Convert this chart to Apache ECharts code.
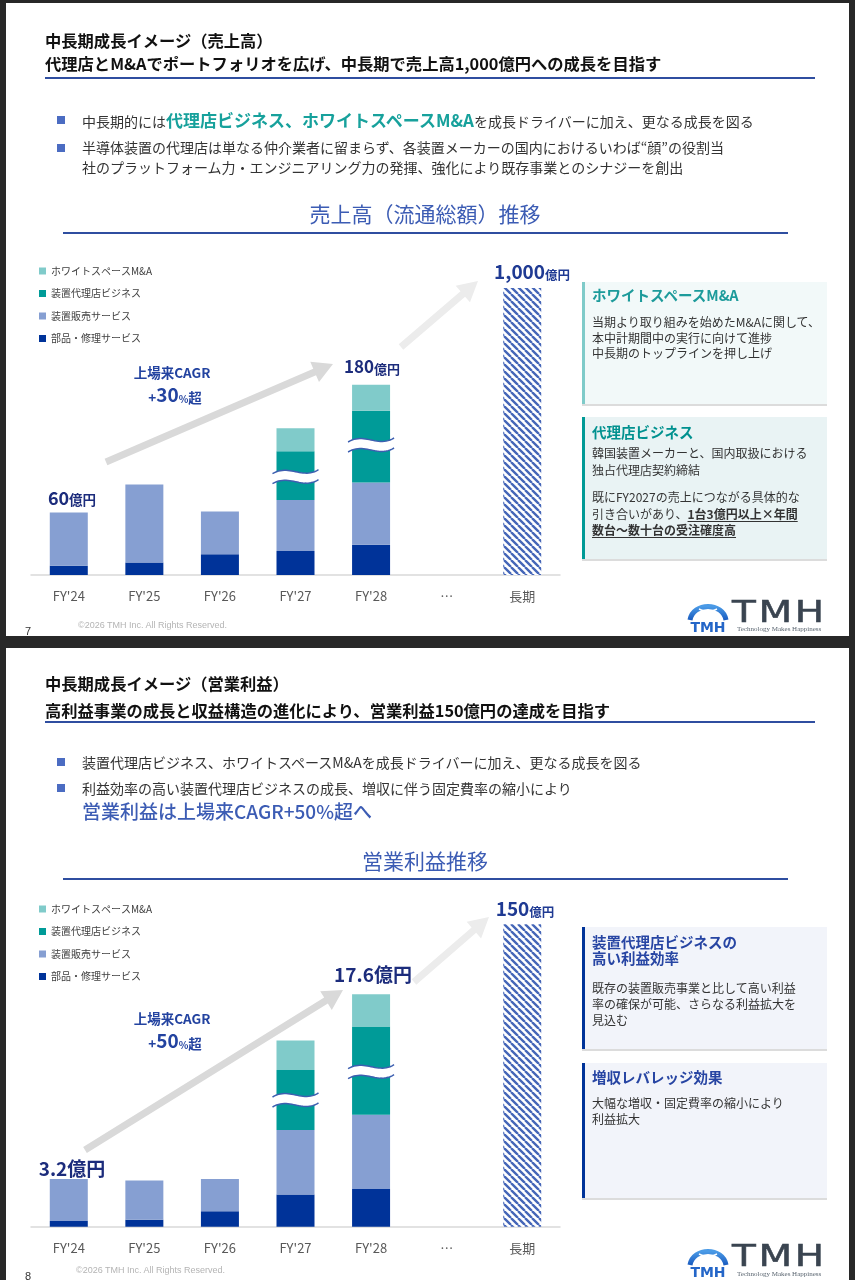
<!DOCTYPE html>
<html><head><meta charset="utf-8">
<script src="https://cdn.jsdelivr.net/npm/echarts@6/dist/echarts.min.js"></script>
<style>
html,body{margin:0;padding:0;}
body{width:855px;height:1280px;background:#282828;position:relative;overflow:hidden;font-family:"Noto Sans CJK JP","Noto Sans",sans-serif;}
.slide{position:absolute;left:6px;width:843px;background:#fff;z-index:0;}
#s1{top:3px;height:633px;}
#s2{top:648px;height:632px;}
#chart{position:absolute;left:0;top:0;width:855px;height:1280px;z-index:1;}
.t{position:absolute;z-index:2;white-space:nowrap;color:#333;}
.ttl{font-size:16.3px;font-weight:bold;color:#111;line-height:20px;left:45px;}
.rule{position:absolute;z-index:2;background:#2f4ea0;}
.sq{position:absolute;z-index:2;width:8px;height:8px;background:#4b6cc2;left:57px;}
.bl{font-size:14px;left:82px;color:#333;}
.teal{color:#17a19c;font-weight:bold;font-size:17px;}
.sec{left:0;width:850px;text-align:center;font-size:21px;color:#3c5cb4;line-height:26px;}
.box{position:absolute;z-index:2;left:582px;width:242px;box-shadow:0 2px 0 #dcdcdc;}
.bt{left:592px;font-size:14.5px;font-weight:bold;line-height:16px;}
.bb{left:592px;font-size:12px;color:#333;}
.foot{font-family:"Liberation Sans",Arial,sans-serif;font-size:9px;color:#b4b4b4;line-height:12px;}
.pg{font-family:"Liberation Sans",Arial,sans-serif;font-size:11px;color:#333;line-height:12px;left:25px;}
.tmh{font-family:"DejaVu Sans","Liberation Sans",sans-serif;font-size:30px;color:#3a4450;line-height:30px;letter-spacing:2px;-webkit-text-stroke:0.5px #3a4450;transform:scaleX(1.3);transform-origin:0 0;}
.tag{font-family:"Liberation Serif",serif;font-size:7px;color:#5a6570;line-height:8px;}
u{text-decoration:underline;text-underline-offset:2px;}
</style></head><body>
<div class="slide" id="s1"></div>
<div class="slide" id="s2"></div>
<div id="chart"></div>

<!-- Slide 1 text -->
<div class="t ttl" style="top:30px;">中長期成長イメージ（売上高）</div>
<div class="t ttl" style="top:53px;">代理店とM&amp;Aでポートフォリオを広げ、中長期で売上高1,000億円への成長を目指す</div>
<div class="rule" style="left:45px;top:77px;width:770px;height:2px;"></div>
<div class="sq" style="top:116px;"></div>
<div class="t bl" style="top:108px;line-height:24px;">中長期的には<span class="teal">代理店ビジネス、ホワイトスペースM&amp;A</span>を成長ドライバーに加え、更なる成長を図る</div>
<div class="sq" style="top:144px;"></div>
<div class="t bl" style="top:138px;line-height:19.5px;">半導体装置の代理店は単なる仲介業者に留まらず、各装置メーカーの国内におけるいわば“顔”の役割当<br>社のプラットフォーム力・エンジニアリング力の発揮、強化により既存事業とのシナジーを創出</div>
<div class="t sec" style="top:200px;">売上高（流通総額）推移</div>
<div class="rule" style="left:63px;top:232px;width:725px;height:2px;"></div>

<div class="box" style="top:282px;height:122px;background:#f2f9f9;border-left:3px solid #7fcbc9;"></div>
<div class="t bt" style="top:287px;color:#1d9b9b;">ホワイトスペースM&amp;A</div>
<div class="t bb" style="top:314px;line-height:15.5px;">当期より取り組みを始めたM&amp;Aに関して、<br>本中計期間中の実行に向けて進捗<br>中長期のトップラインを押し上げ</div>
<div class="box" style="top:417px;height:142px;background:#e9f3f4;border-left:3px solid #009a96;"></div>
<div class="t bt" style="top:424px;color:#00918f;">代理店ビジネス</div>
<div class="t bb" style="top:444px;line-height:17px;">韓国装置メーカーと、国内取扱における<br>独占代理店契約締結</div>
<div class="t bb" style="top:489px;line-height:16.5px;">既にFY2027の売上につながる具体的な<br>引き合いがあり、<b><u>1台3億円以上×年間</u></b><br><b><u>数台〜数十台の受注確度高</u></b></div>

<div class="t foot" style="left:78px;top:619px;">©2026 TMH Inc. All Rights Reserved.</div>
<div class="t pg" style="top:625px;">7</div>
<svg class="t" style="left:687px;top:597px;" width="42" height="38" viewBox="0 0 42 38"><defs><linearGradient id="lg1" x1="0" x2="0" y1="0" y2="1"><stop offset="0" stop-color="#4a9ae6"/><stop offset="1" stop-color="#1a5cc0"/></linearGradient></defs><path d="M3 23 C6 5 36 5 39 23" stroke="url(#lg1)" stroke-width="5" fill="none"/><path d="M12 12 L21 16 L30 12" stroke="#ffffff" stroke-width="1.5" fill="none"/><text x="21" y="35" text-anchor="middle" font-family="DejaVu Sans" font-weight="bold" font-size="14" fill="#2466c8">TMH</text></svg>
<div class="t tmh" style="left:732px;top:597px;">TMH</div>
<div class="t tag" style="left:737px;top:625px;">Technology Makes Happiness</div>

<!-- Slide 2 text -->
<div class="t ttl" style="top:673px;">中長期成長イメージ（営業利益）</div>
<div class="t ttl" style="top:700px;">高利益事業の成長と収益構造の進化により、営業利益150億円の達成を目指す</div>
<div class="rule" style="left:45px;top:721px;width:770px;height:2px;"></div>
<div class="sq" style="top:758px;"></div>
<div class="t bl" style="top:751px;line-height:22px;">装置代理店ビジネス、ホワイトスペースM&amp;Aを成長ドライバーに加え、更なる成長を図る</div>
<div class="sq" style="top:784px;"></div>
<div class="t bl" style="top:777px;line-height:22px;">利益効率の高い装置代理店ビジネスの成長、増収に伴う固定費率の縮小により</div>
<div class="t" style="left:82px;top:799px;line-height:24px;font-size:19px;color:#3c5cb4;font-weight:500;">営業利益は上場来CAGR+50%超へ</div>
<div class="t sec" style="top:847px;">営業利益推移</div>
<div class="rule" style="left:63px;top:878px;width:725px;height:2px;"></div>

<div class="box" style="top:927px;height:122px;background:#f2f4fa;border-left:3px solid #003399;"></div>
<div class="t bt" style="top:934px;color:#2745a3;">装置代理店ビジネスの<br>高い利益効率</div>
<div class="t bb" style="top:980px;line-height:16px;">既存の装置販売事業と比して高い利益<br>率の確保が可能、さらなる利益拡大を<br>見込む</div>
<div class="box" style="top:1063px;height:135px;background:#f2f4fa;border-left:3px solid #003399;"></div>
<div class="t bt" style="top:1069px;color:#2745a3;">増収レバレッジ効果</div>
<div class="t bb" style="top:1095px;line-height:16px;">大幅な増収・固定費率の縮小により<br>利益拡大</div>

<div class="t foot" style="left:76px;top:1264px;">©2026 TMH Inc. All Rights Reserved.</div>
<div class="t pg" style="top:1270px;">8</div>
<svg class="t" style="left:687px;top:1242px;" width="42" height="38" viewBox="0 0 42 38"><defs><linearGradient id="lg2" x1="0" x2="0" y1="0" y2="1"><stop offset="0" stop-color="#4a9ae6"/><stop offset="1" stop-color="#1a5cc0"/></linearGradient></defs><path d="M3 23 C6 5 36 5 39 23" stroke="url(#lg2)" stroke-width="5" fill="none"/><path d="M12 12 L21 16 L30 12" stroke="#ffffff" stroke-width="1.5" fill="none"/><text x="21" y="35" text-anchor="middle" font-family="DejaVu Sans" font-weight="bold" font-size="14" fill="#2466c8">TMH</text></svg>
<div class="t tmh" style="left:732px;top:1241px;">TMH</div>
<div class="t tag" style="left:737px;top:1270px;">Technology Makes Happiness</div>

<script>
// ---------- data ----------
const categories = ["FY'24", "FY'25", "FY'26", "FY'27", "FY'28", "…", "長期"];
const legendNames = ['ホワイトスペースM&A', '装置代理店ビジネス', '装置販売サービス', '部品・修理サービス'];

// 売上高 (億円, as drawn)
const salesParts    = [9, 12, 20, 23, 29, null, null];
const salesEquip    = [51, 75, 41, 49, 60, null, null];
const salesAgency   = [null, null, null, 47, 69, null, null];
const salesWhite    = [null, null, null, 22, 25, null, null];
const salesLongTerm = [null, null, null, null, null, null, 276];
const salesBreaks   = [[3, 94.5], [4, 125]];

// 営業利益 (億円, as drawn)
const profitParts    = [0.4, 0.5, 1.1, 2.3, 2.7, null, null];
const profitEquip    = [3.0, 2.8, 2.3, 4.6, 5.3, null, null];
const profitAgency   = [null, null, null, 4.3, 6.3, null, null];
const profitWhite    = [null, null, null, 2.1, 2.3, null, null];
const profitLongTerm = [null, null, null, null, null, null, 21.6];
const profitBreaks   = [[3, 9.05], [4, 11.07]];

// ---------- styles ----------
const F = '"Noto Sans CJK JP","Noto Sans",sans-serif';
const C_PARTS = '#003399', C_EQUIP = '#869fd2', C_AGENCY = '#009b98', C_WHITE = '#80cbca';
const NAVY = '#1c2c7c', CAGR = '#2343a0';

function hatch() {
  const s = 7, c = document.createElement('canvas');
  c.width = s; c.height = s;
  const g = c.getContext('2d');
  g.fillStyle = '#ffffff'; g.fillRect(0, 0, s, s);
  g.strokeStyle = '#4566b8'; g.lineWidth = 2.4;
  g.beginPath();
  for (let k = -1; k <= 1; k++) { g.moveTo(k * s, 0); g.lineTo(k * s + s, s); }
  g.stroke();
  return { image: c, repeat: 'repeat' };
}
const hatchFill = hatch();

function bar(name, data, color, idx, stack) {
  return { type: 'bar', name, data, stack, xAxisIndex: idx, yAxisIndex: idx, barWidth: 38,
    itemStyle: { color }, silent: true, emphasis: { disabled: true } };
}

function bez(p0, p1, p2, p3, n) {
  const out = [];
  for (let i = 0; i <= n; i++) {
    const t = i / n, u = 1 - t;
    out.push([
      u*u*u*p0[0] + 3*u*u*t*p1[0] + 3*u*t*t*p2[0] + t*t*t*p3[0],
      u*u*u*p0[1] + 3*u*u*t*p1[1] + 3*u*t*t*p2[1] + t*t*t*p3[1]
    ]);
  }
  return out;
}
function waveRender(params, api) {
  const p = api.coord([api.value(0), api.value(1)]);
  const bw = 38, w = bw + 8, x0 = p[0] - w / 2, x1 = p[0] + w / 2, yc = p[1];
  const curve = dy => bez([x0, yc + dy + 2], [x0 + w * 0.35, yc + dy - 8], [x0 + w * 0.65, yc + dy + 8], [x1, yc + dy - 2], 24);
  const top = curve(-5), bot = curve(5);
  const fill = top.concat(bot.slice().reverse());
  return { type: 'group', children: [
    { type: 'polygon', shape: { points: fill }, style: { fill: '#ffffff' } },
    { type: 'polyline', shape: { points: top }, style: { fill: null, stroke: '#3d5fb0', lineWidth: 1.5 } },
    { type: 'polyline', shape: { points: bot }, style: { fill: null, stroke: '#3d5fb0', lineWidth: 1.5 } }
  ]};
}
function waves(data, idx) {
  return { type: 'custom', data, xAxisIndex: idx, yAxisIndex: idx, renderItem: waveRender, z: 5, silent: true };
}

function arrow(x0, y0, x1, y1, sw, hw, hl, color) {
  const dx = x1 - x0, dy = y1 - y0, L = Math.hypot(dx, dy), ux = dx / L, uy = dy / L, nx = -uy, ny = ux;
  const bx = x1 - ux * hl, by = y1 - uy * hl;
  const pts = [
    [x0 + nx * sw / 2, y0 + ny * sw / 2], [bx + nx * sw / 2, by + ny * sw / 2], [bx + nx * hw / 2, by + ny * hw / 2],
    [x1, y1], [bx - nx * hw / 2, by - ny * hw / 2], [bx - nx * sw / 2, by - ny * sw / 2], [x0 - nx * sw / 2, y0 - ny * sw / 2]
  ];
  return { type: 'polygon', shape: { points: pts }, style: { fill: color }, z: 1, silent: true };
}
function rtext(x, y, text, rich) {
  return { type: 'text', x, y, z: 10, silent: true,
    style: { text, rich, align: 'center', verticalAlign: 'middle', textAlign: 'center', textVerticalAlign: 'middle' } };
}
const tok = (size, color, weight) => ({ fontSize: size, fill: color, fontWeight: weight || 'bold', fontFamily: F, verticalAlign: 'bottom', lineHeight: size + 2 });

function xAxis(idx) {
  return { type: 'category', gridIndex: idx, data: categories,
    axisLine: { lineStyle: { color: '#d9d9d9', width: 1.5 } }, axisTick: { show: false },
    axisLabel: { color: '#595959', fontSize: 13, margin: 15, fontFamily: F } };
}
function legend(top) {
  return { orient: 'vertical', left: 39, top, padding: 0, data: legendNames, icon: 'rect', itemWidth: 7, itemHeight: 7,
    itemGap: 10.5, selectedMode: false, textStyle: { fontSize: 10, color: '#404040', fontFamily: F, lineHeight: 12 } };
}

const chart = echarts.init(document.getElementById('chart'), null, { renderer: 'canvas' });
chart.setOption({
  animation: false,
  backgroundColor: 'transparent',
  grid: [
    { left: 31, width: 529, top: 263, height: 312 },
    { left: 31, width: 529, top: 890.7, height: 336 }
  ],
  xAxis: [xAxis(0), xAxis(1)],
  yAxis: [
    { type: 'value', gridIndex: 0, min: 0, max: 300, show: false },
    { type: 'value', gridIndex: 1, min: 0, max: 24, show: false }
  ],
  legend: [legend(265), legend(903)],
  series: [
    bar('部品・修理サービス', salesParts, C_PARTS, 0, 's'),
    bar('装置販売サービス', salesEquip, C_EQUIP, 0, 's'),
    bar('装置代理店ビジネス', salesAgency, C_AGENCY, 0, 's'),
    bar('ホワイトスペースM&A', salesWhite, C_WHITE, 0, 's'),
    bar('長期', salesLongTerm, hatchFill, 0, 's'),
    waves(salesBreaks, 0),
    bar('部品・修理サービス', profitParts, C_PARTS, 1, 'p'),
    bar('装置販売サービス', profitEquip, C_EQUIP, 1, 'p'),
    bar('装置代理店ビジネス', profitAgency, C_AGENCY, 1, 'p'),
    bar('ホワイトスペースM&A', profitWhite, C_WHITE, 1, 'p'),
    bar('長期', profitLongTerm, hatchFill, 1, 'p'),
    waves(profitBreaks, 1)
  ],
  graphic: [
    // chart 1 annotations
    arrow(106, 462, 333, 364, 7, 22, 20, '#d9d9d9'),
    arrow(401, 347, 478, 281, 7, 22, 20, '#ececec'),
    rtext(72, 497, '{n|60}{u|億円}', { n: tok(18, NAVY), u: tok(13.5, NAVY) }),
    rtext(172, 372, '{a|上場来CAGR}', { a: tok(13.5, CAGR) }),
    rtext(175, 394, '{a|+}{n|30}{p|%}{a|超}', { a: tok(13.5, CAGR), n: tok(19, CAGR), p: tok(10, CAGR) }),
    rtext(372, 366, '{n|180}{u|億円}', { n: tok(17, NAVY), u: tok(13, NAVY) }),
    rtext(532, 271, '{n|1,000}{u|億円}', { n: tok(19, '#1f3a93'), u: tok(12.5, '#1f3a93') }),
    // chart 2 annotations
    arrow(85, 1150, 343, 990, 7, 22, 20, '#d9d9d9'),
    arrow(414, 982, 489, 917, 7, 22, 20, '#ececec'),
    rtext(72, 1168, '{n|3.2億円}', { n: tok(19, NAVY) }),
    rtext(172, 1018, '{a|上場来CAGR}', { a: tok(13.5, CAGR) }),
    rtext(175, 1040, '{a|+}{n|50}{p|%}{a|超}', { a: tok(13.5, CAGR), n: tok(19, CAGR), p: tok(10, CAGR) }),
    rtext(373, 974, '{n|17.6億円}', { n: tok(19, NAVY) }),
    rtext(525, 908, '{n|150}{u|億円}', { n: tok(19, '#1f3a93'), u: tok(12.5, '#1f3a93') })
  ]
});
</script>
</body></html>
